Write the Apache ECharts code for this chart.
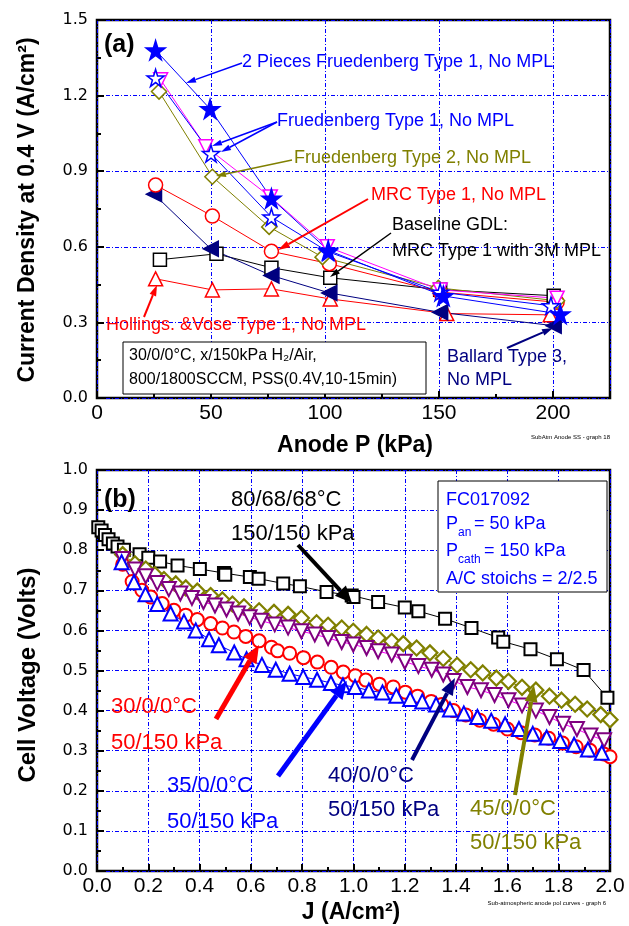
<!DOCTYPE html>
<html>
<head>
<meta charset="utf-8">
<script src="https://cdn.jsdelivr.net/npm/echarts@6/dist/echarts.min.js"></script>
<style>
  html, body { margin: 0; padding: 0; background: #fff; }
  #chart { width: 629px; height: 926px; }
</style>
</head>
<body>
<div id="chart"></div>
<script>
// ---- (a) current density at 0.4 V vs anode pressure (kPa) ----
const twoPieceFrue1 = [[25.7,1.38],[49.6,1.147],[76.5,0.792],[101.4,0.586],[151.9,0.405],[203.2,0.333]];
const frue1Star     = [[25.7,1.27],[50,0.97],[76.5,0.718],[101.4,0.58],[150.5,0.42],[199.1,0.366]];
const frue1Tri      = [[27.9,1.263],[47.7,0.997],[76,0.798],[101,0.60],[150.5,0.429],[201.8,0.396]];
const frue2         = [[27.2,1.216],[50.6,0.878],[75.5,0.679],[98.9,0.559],[149.7,0.437],[201.8,0.386]];
const mrc1          = [[25.7,0.845],[50.6,0.722],[76.5,0.582],[101.9,0.533],[150.5,0.42],[201.8,0.38]];
const ballard3      = [[25,0.809],[49.9,0.592],[76.5,0.486],[101.9,0.417],[150.5,0.34],[200.3,0.287]];
const baseline      = [[27.6,0.549],[52.4,0.572],[76.5,0.517],[102.3,0.477],[150.5,0.43],[200.3,0.406]];
const hollVose      = [[25.7,0.473],[50.6,0.429],[76.5,0.433],[102.3,0.393],[153.4,0.335],[198.8,0.33]];

// ---- (b) polarisation curves, J (A/cm2) vs cell voltage ----
const pol80 = [[0.005,0.857],[0.018,0.849],[0.031,0.838],[0.045,0.827],[0.062,0.817],[0.08,0.809],[0.105,0.801],
  [0.166,0.79],[0.2,0.781],[0.246,0.772],[0.314,0.762],[0.401,0.753],[0.495,0.743],[0.50,0.739],[0.596,0.733],
  [0.63,0.729],[0.726,0.717],[0.791,0.71],[0.895,0.696],[0.993,0.687],[1.0,0.683],[1.096,0.671],[1.2,0.657],
  [1.253,0.648],[1.357,0.629],[1.46,0.606],[1.564,0.582],[1.584,0.572],[1.69,0.553],[1.793,0.528],[1.897,0.501],[1.99,0.432]];
const pol30 = [[0.10,0.765],[0.137,0.722],[0.175,0.70],[0.21,0.683],[0.254,0.667],[0.30,0.65],[0.346,0.638],
  [0.391,0.627],[0.443,0.617],[0.489,0.606],[0.534,0.596],[0.58,0.585],[0.632,0.574],[0.68,0.558],[0.704,0.549],
  [0.751,0.543],[0.805,0.532],[0.859,0.521],[0.913,0.508],[0.96,0.496],[1.007,0.487],[1.048,0.476],[1.101,0.466],
  [1.155,0.459],[1.202,0.446],[1.25,0.436],[1.303,0.423],[1.344,0.415],[1.39,0.40],[1.438,0.389],[1.492,0.376],
  [1.546,0.366],[1.60,0.354],[1.653,0.345],[1.707,0.339],[1.761,0.331],[1.815,0.319],[1.868,0.31],[1.922,0.301],
  [1.976,0.292],[2.0,0.285]];
const pol35 = [[0.096,0.77],[0.144,0.72],[0.189,0.69],[0.235,0.666],[0.287,0.642],[0.339,0.622],[0.385,0.60],
  [0.437,0.578],[0.475,0.563],[0.535,0.545],[0.583,0.528],[0.643,0.514],[0.697,0.502],[0.751,0.492],[0.804,0.484],
  [0.858,0.477],[0.912,0.469],[0.959,0.463],[1.006,0.459],[1.06,0.45],[1.113,0.445],[1.167,0.437],[1.221,0.429],
  [1.268,0.423],[1.322,0.415],[1.376,0.403],[1.43,0.393],[1.483,0.384],[1.537,0.375],[1.591,0.366],[1.645,0.354],
  [1.699,0.342],[1.753,0.333],[1.806,0.324],[1.86,0.315],[1.914,0.303],[1.968,0.295]];
const pol40 = [[0.10,0.778],[0.148,0.752],[0.19,0.735],[0.235,0.718],[0.28,0.703],[0.325,0.692],[0.37,0.681],
  [0.415,0.671],[0.46,0.662],[0.505,0.652],[0.55,0.642],[0.595,0.633],[0.64,0.624],[0.693,0.615],[0.745,0.607],
  [0.797,0.598],[0.849,0.59],[0.901,0.581],[0.954,0.571],[0.999,0.565],[1.051,0.556],[1.096,0.548],[1.149,0.54],
  [1.20,0.522],[1.253,0.511],[1.305,0.502],[1.35,0.49],[1.391,0.474],[1.444,0.459],[1.497,0.451],[1.55,0.439],
  [1.604,0.426],[1.657,0.413],[1.711,0.40],[1.764,0.384],[1.817,0.367],[1.871,0.354],[1.924,0.338],[1.977,0.326]];
const pol45 = [[0.10,0.789],[0.148,0.766],[0.19,0.753],[0.226,0.739],[0.261,0.727],[0.307,0.716],[0.346,0.706],
  [0.391,0.698],[0.443,0.687],[0.489,0.676],[0.528,0.666],[0.573,0.659],[0.632,0.649],[0.69,0.645],[0.745,0.64],
  [0.797,0.631],[0.856,0.619],[0.901,0.613],[0.954,0.606],[0.999,0.598],[1.051,0.59],[1.096,0.581],[1.149,0.573],
  [1.194,0.567],[1.246,0.556],[1.298,0.544],[1.35,0.53],[1.404,0.513],[1.457,0.502],[1.504,0.494],[1.557,0.481],
  [1.604,0.473],[1.657,0.458],[1.711,0.451],[1.764,0.436],[1.811,0.426],[1.864,0.416],[1.911,0.404],[1.964,0.39],[2.0,0.377]];

const anodeTicks = [0, 50, 100, 150, 200];

const BLUE = '#0000ff', RED = '#ff0000', OLIVE = '#808000', NAVY = '#000080',
      MAG = '#ff00ff', PURPLE = '#800080', BLACK = '#000000';
const NARROW = "'Liberation Sans', Arial, sans-serif";
const STAR = 'path://M50,0 L61,35 L98,35 L68,57 L79,91 L50,70 L21,91 L32,57 L2,35 L39,35 Z';
const gridLine = { color: BLUE, width: 1, type: [4, 2, 1, 2] };

function ser(idx, data, sym, size, col, opts) {
  opts = opts || {};
  return {
    type: 'line', xAxisIndex: idx, yAxisIndex: idx, data: data,
    symbol: sym, symbolSize: size, symbolRotate: opts.rot || 0, showAllSymbol: true,
    lineStyle: { color: opts.line || col, width: 1 },
    itemStyle: { color: opts.filled ? col : '#ffffff', borderColor: col, borderWidth: opts.bw || 1.5 },
    z: opts.z || 2, emphasis: { disabled: true }
  };
}

function arrow(x1, y1, x2, y2, col, w, hl, hw) {
  const a = Math.atan2(y2 - y1, x2 - x1);
  const bx = x2 - hl * Math.cos(a), by = y2 - hl * Math.sin(a);
  const px = -Math.sin(a) * hw / 2, py = Math.cos(a) * hw / 2;
  return [
    { type: 'line', z: 100, shape: { x1: x1, y1: y1, x2: bx, y2: by }, style: { stroke: col, lineWidth: w } },
    { type: 'polygon', z: 100, shape: { points: [[x2, y2], [bx + px, by + py], [bx - px, by - py]] }, style: { fill: col } }
  ];
}
function txt(x, y, s, col, font, align, rot) {
  return { type: 'text', z: 101, x: x, y: y, rotation: rot || 0,
    style: { text: s, fill: col, font: font, align: align || 'left', verticalAlign: 'middle' } };
}

const f18 = '18px ' + NARROW, f22 = '22px ' + NARROW;
const graphics = [].concat(
  // panel (a)
  txt(104, 45, '(a)', BLACK, 'bold 25px Arial, sans-serif'),
  txt(242, 62, '2 Pieces Fruedenberg Type 1, No MPL', BLUE, f18), arrow(242, 63, 186, 83, BLUE, 1.5, 10, 6),
  txt(277, 121, 'Fruedenberg Type 1, No MPL', BLUE, f18),
  arrow(277, 122, 212, 146, BLUE, 1.5, 10, 6), arrow(277, 122, 221, 152, BLUE, 1.5, 10, 6),
  txt(294, 158, 'Fruedenberg Type 2, No MPL', OLIVE, f18), arrow(292, 160, 216, 176, OLIVE, 1.5, 10, 6),
  txt(371, 195, 'MRC Type 1, No MPL', RED, f18), arrow(368, 199, 278, 250, RED, 2, 12, 7),
  txt(392, 225, 'Baseline GDL:', BLACK, f18), txt(392, 251, 'MRC Type 1 with 3M MPL', BLACK, f18),
  arrow(391, 233, 330, 277, BLACK, 1.5, 10, 6),
  txt(106, 325, 'Hollings. &Vose Type 1, No MPL', RED, f18), arrow(144, 317, 157, 285, RED, 2, 11, 7),
  { type: 'rect', z: 99, shape: { x: 123, y: 342, width: 303, height: 52 }, style: { fill: '#fff', stroke: BLACK, lineWidth: 1 } },
  txt(129, 356, '30/0/0°C, x/150kPa H₂/Air,', BLACK, '16px ' + NARROW),
  txt(129, 380, '800/1800SCCM, PSS(0.4V,10-15min)', BLACK, '16px ' + NARROW),
  txt(447, 357, 'Ballard Type 3,', NAVY, f18), txt(447, 380, 'No MPL', NAVY, f18),
  arrow(507, 348, 553, 328, NAVY, 2, 11, 7),
  txt(610, 437, 'SubAtm Anode SS - graph 18', BLACK, '6px Arial, sans-serif', 'right'),
  txt(355, 446, 'Anode P (kPa)', BLACK, 'bold 23px ' + NARROW, 'center'),
  txt(28, 210, 'Current Density at 0.4 V (A/cm²)', BLACK, 'bold 23px ' + NARROW, 'center', Math.PI / 2),
  // panel (b)
  txt(104, 500, '(b)', BLACK, 'bold 25px Arial, sans-serif'),
  txt(231, 500, '80/68/68°C', BLACK, f22), txt(231, 534, '150/150 kPa', BLACK, f22),
  arrow(298, 545, 352, 603, BLACK, 4, 17, 15),
  { type: 'rect', z: 99, shape: { x: 438, y: 481, width: 169, height: 111 }, style: { fill: '#fff', stroke: BLACK, lineWidth: 1 } },
  txt(446, 500, 'FC017092', BLUE, f18),
  txt(446, 524, 'P', BLUE, f18), txt(458, 533, 'an', BLUE, '12px ' + NARROW), txt(474, 524, '= 50 kPa', BLUE, f18),
  txt(446, 551, 'P', BLUE, f18), txt(458, 560, 'cath', BLUE, '12px ' + NARROW), txt(484, 551, '= 150 kPa', BLUE, f18),
  txt(446, 579, 'A/C stoichs = 2/2.5', BLUE, f18),
  txt(111, 707, '30/0/0°C', RED, f22), txt(111, 743, '50/150 kPa', RED, f22), arrow(216, 719, 259, 645, RED, 5, 18, 15),
  txt(167, 786, '35/0/0°C', BLUE, f22), txt(167, 822, '50/150 kPa', BLUE, f22), arrow(278, 776, 347, 681, BLUE, 5, 18, 15),
  txt(328, 776, '40/0/0°C', NAVY, f22), txt(328, 810, '50/150 kPa', NAVY, f22), arrow(412, 760, 455, 678, NAVY, 4, 17, 13),
  txt(470, 809, '45/0/0°C', OLIVE, f22), txt(470, 843, '50/150 kPa', OLIVE, f22), arrow(515, 795, 534, 685, OLIVE, 4, 17, 13),
  txt(606, 903, 'Sub-atmospheric anode pol curves - graph 6', BLACK, '6px Arial, sans-serif', 'right'),
  txt(351, 913, 'J (A/cm²)', BLACK, 'bold 23px ' + NARROW, 'center'),
  txt(28, 675, 'Cell Voltage (Volts)', BLACK, 'bold 24px ' + NARROW, 'center', Math.PI / 2)
);

function xAx(idx, min, max, step, fmt) {
  return {
    type: 'value', gridIndex: idx, min: min, max: max, interval: step,
    axisLine: { show: false },
    axisTick: { show: true, inside: true, length: 7, lineStyle: { color: BLACK, width: 2 } },
    minorTick: { show: true, splitNumber: 2, length: 4, lineStyle: { color: BLACK, width: 2 } },
    splitLine: { show: true, lineStyle: gridLine },
    axisLabel: { color: BLACK, fontSize: 21, fontFamily: NARROW, margin: 5, showMaxLabel: idx === 1, formatter: fmt }
  };
}
function yAx(idx, min, max, step) {
  return {
    type: 'value', gridIndex: idx, min: min, max: max, interval: step,
    axisLine: { show: false },
    axisTick: { show: true, inside: true, length: 7, lineStyle: { color: BLACK, width: 2 } },
    minorTick: { show: true, splitNumber: 2, length: 4, lineStyle: { color: BLACK, width: 2 } },
    splitLine: { show: true, lineStyle: gridLine },
    axisLabel: { color: BLACK, fontSize: 16, fontFamily: 'DejaVu Sans, sans-serif', margin: 9,
      formatter: v => v.toFixed(1) }
  };
}

const chart = echarts.init(document.getElementById('chart'), null, { renderer: 'canvas' });
chart.setOption({
  animation: false,
  backgroundColor: '#ffffff',
  grid: [
    { left: 97, top: 20, width: 513, height: 378, show: true, borderColor: BLACK, borderWidth: 2.5, backgroundColor: 'transparent' },
    { left: 97, top: 470, width: 513, height: 401, show: true, borderColor: BLACK, borderWidth: 2.5, backgroundColor: 'transparent' }
  ],
  xAxis: [
    xAx(0, 0, 225, 50, v => anodeTicks.indexOf(v) >= 0 ? String(v) : ''),
    xAx(1, 0, 2, 0.2, v => v.toFixed(1))
  ],
  yAxis: [ yAx(0, 0, 1.5, 0.3), yAx(1, 0, 1.0, 0.1) ],
  series: [
    ser(0, hollVose, 'triangle', 14, RED),
    ser(0, baseline, 'rect', 13, BLACK),
    ser(0, ballard3, 'triangle', 15, NAVY, { filled: true, rot: 90 }),
    ser(0, mrc1, 'circle', 14, RED),
    ser(0, frue2, 'diamond', 15, OLIVE),
    ser(0, frue1Tri, 'triangle', 14, MAG, { rot: 180 }),
    ser(0, frue1Star, STAR, 17, BLUE, { bw: 1.5 }),
    ser(0, twoPieceFrue1, STAR, 19, BLUE, { filled: true }),
    ser(1, pol80, 'rect', 12, BLACK, { bw: 2 }),
    ser(1, pol30, 'circle', 13, RED, { bw: 2 }),
    ser(1, pol45, 'diamond', 15, OLIVE, { bw: 2.2 }),
    ser(1, pol40, 'triangle', 14, PURPLE, { bw: 2, rot: 180, line: MAG }),
    ser(1, pol35, 'triangle', 14, BLUE, { bw: 2 })
  ],
  graphic: graphics
});
</script>
</body>
</html>
